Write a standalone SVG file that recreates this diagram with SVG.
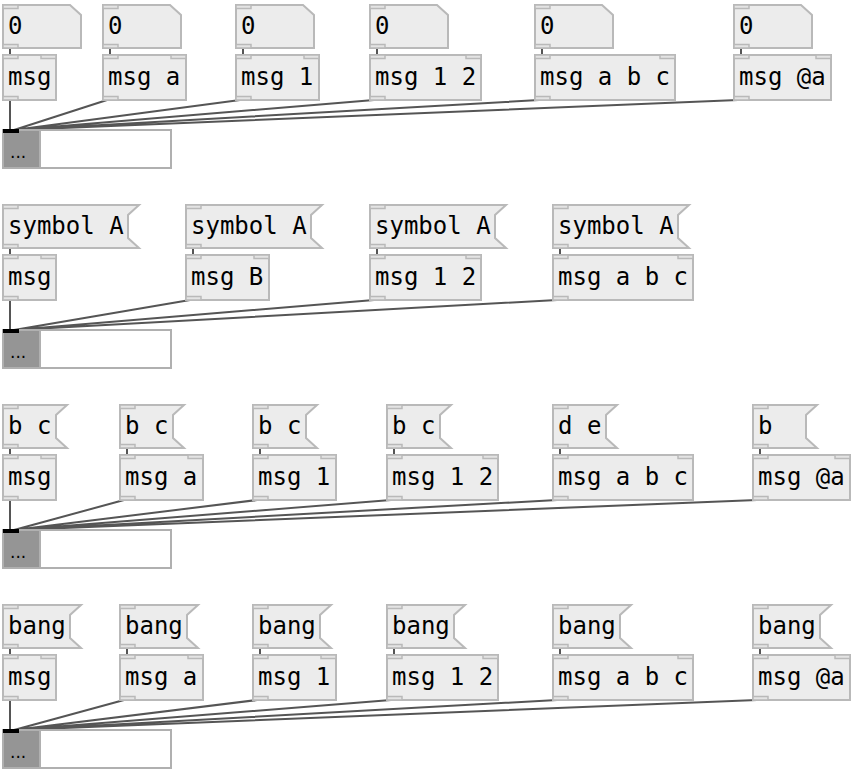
<svg xmlns="http://www.w3.org/2000/svg" width="856" height="776" viewBox="0 0 856 776">
<style>
.bg{fill:#fff}
.box{fill:#ececec;stroke:#b9b9b9;stroke-width:2}
.io{fill:#e4e4e4;stroke:#b9b9b9;stroke-width:1.5}
.t{font-family:"DejaVu Sans Mono","Liberation Mono",monospace;font-size:24px;fill:#000}
.c{stroke:#555;stroke-width:2;fill:none}
.dg{fill:#959595;stroke:#b0b0b0;stroke-width:2}
.dw{fill:#fff;stroke:#b0b0b0;stroke-width:2}
.dots{font-family:"DejaVu Sans",sans-serif;font-size:17px;fill:#000}
</style>
<rect class="bg" width="856" height="776"/>

<!-- connectors -->
<g id="connectors">
<!-- row 1 -->
<path class="c" d="M10,48V56 M110,48V56 M243,48V56 M377,48V56 M542,48V56 M741,48V56"/>
<path class="c" d="M10,100V130 M107,100L14,130 M240,100L14,130 M374,100L14,130 M539,100L14,130 M738,100L14,130"/>
<!-- row 2 -->
<path class="c" d="M10,248V256 M193,248V256 M377,248V256 M560,248V256"/>
<path class="c" d="M10,300V330 M190,300L14,330 M374,300L14,330 M557,300L14,330"/>
<!-- row 3 -->
<path class="c" d="M10,448V456 M127,448V456 M260,448V456 M394,448V456 M560,448V456 M760,448V456"/>
<path class="c" d="M10,500V530 M124,500L14,530 M257,500L14,530 M391,500L14,530 M557,500L14,530 M757,500L14,530"/>
<!-- row 4 -->
<path class="c" d="M10,648V656 M127,648V656 M260,648V656 M394,648V656 M560,648V656 M760,648V656"/>
<path class="c" d="M10,700V730 M124,700L14,730 M257,700L14,730 M391,700L14,730 M557,700L14,730 M757,700L14,730"/>
</g>

<!-- ROW 1 -->
<g id="num1"><path class="box" d="M3,5H70L81,15V48H3Z"/><rect class="io" x="3" y="5" width="15" height="3.5"/><rect class="io" x="3" y="44.5" width="15" height="3.5"/><text class="t" x="8" y="34">0</text></g>
<g id="num2"><path class="box" d="M103,5H170L181,15V48H103Z"/><rect class="io" x="103" y="5" width="15" height="3.5"/><rect class="io" x="103" y="44.5" width="15" height="3.5"/><text class="t" x="108" y="34">0</text></g>
<g id="num3"><path class="box" d="M236,5H303L314,15V48H236Z"/><rect class="io" x="236" y="5" width="15" height="3.5"/><rect class="io" x="236" y="44.5" width="15" height="3.5"/><text class="t" x="241" y="34">0</text></g>
<g id="num4"><path class="box" d="M370,5H437L448,15V48H370Z"/><rect class="io" x="370" y="5" width="15" height="3.5"/><rect class="io" x="370" y="44.5" width="15" height="3.5"/><text class="t" x="375" y="34">0</text></g>
<g id="num5"><path class="box" d="M535,5H602L613,15V48H535Z"/><rect class="io" x="535" y="5" width="15" height="3.5"/><rect class="io" x="535" y="44.5" width="15" height="3.5"/><text class="t" x="540" y="34">0</text></g>
<g id="num6"><path class="box" d="M734,5H801L812,15V48H734Z"/><rect class="io" x="734" y="5" width="15" height="3.5"/><rect class="io" x="734" y="44.5" width="15" height="3.5"/><text class="t" x="739" y="34">0</text></g>

<g id="msg1a"><rect class="box" x="3" y="55" width="53" height="45"/><rect class="io" x="3" y="55" width="15" height="3.5"/><rect class="io" x="41" y="55" width="15" height="3.5"/><rect class="io" x="3" y="96.5" width="15" height="3.5"/><text class="t" x="8" y="85">msg</text></g>
<g id="msg1b"><rect class="box" x="103" y="55" width="83" height="45"/><rect class="io" x="103" y="55" width="15" height="3.5"/><rect class="io" x="171" y="55" width="15" height="3.5"/><rect class="io" x="103" y="96.5" width="15" height="3.5"/><text class="t" x="108" y="85">msg a</text></g>
<g id="msg1c"><rect class="box" x="236" y="55" width="83" height="45"/><rect class="io" x="236" y="55" width="15" height="3.5"/><rect class="io" x="304" y="55" width="15" height="3.5"/><rect class="io" x="236" y="96.5" width="15" height="3.5"/><text class="t" x="241" y="85">msg 1</text></g>
<g id="msg1d"><rect class="box" x="370" y="55" width="111" height="45"/><rect class="io" x="370" y="55" width="15" height="3.5"/><rect class="io" x="466" y="55" width="15" height="3.5"/><rect class="io" x="370" y="96.5" width="15" height="3.5"/><text class="t" x="375" y="85">msg 1 2</text></g>
<g id="msg1e"><rect class="box" x="535" y="55" width="140" height="45"/><rect class="io" x="535" y="55" width="15" height="3.5"/><rect class="io" x="660" y="55" width="15" height="3.5"/><rect class="io" x="535" y="96.5" width="15" height="3.5"/><text class="t" x="540" y="85">msg a b c</text></g>
<g id="msg1f"><rect class="box" x="734" y="55" width="97" height="45"/><rect class="io" x="734" y="55" width="15" height="3.5"/><rect class="io" x="816" y="55" width="15" height="3.5"/><rect class="io" x="734" y="96.5" width="15" height="3.5"/><text class="t" x="739" y="85">msg @a</text></g>

<g id="disp1"><rect class="dw" x="3" y="130" width="168" height="38"/><rect class="dg" x="3" y="130" width="37" height="38"/><rect x="3" y="129" width="16" height="4" fill="#000"/><text class="dots" x="10" y="158">...</text></g>

<!-- ROW 2 -->
<g id="sym2a"><path class="box" d="M3,205H139L128,215V238L139,248H3Z"/><rect class="io" x="3" y="205" width="15" height="3.5"/><rect class="io" x="3" y="244.5" width="15" height="3.5"/><text class="t" x="8" y="234">symbol A</text></g>
<g id="sym2b"><path class="box" d="M186,205H322L311,215V238L322,248H186Z"/><rect class="io" x="186" y="205" width="15" height="3.5"/><rect class="io" x="186" y="244.5" width="15" height="3.5"/><text class="t" x="191" y="234">symbol A</text></g>
<g id="sym2c"><path class="box" d="M370,205H506L495,215V238L506,248H370Z"/><rect class="io" x="370" y="205" width="15" height="3.5"/><rect class="io" x="370" y="244.5" width="15" height="3.5"/><text class="t" x="375" y="234">symbol A</text></g>
<g id="sym2d"><path class="box" d="M553,205H689L678,215V238L689,248H553Z"/><rect class="io" x="553" y="205" width="15" height="3.5"/><rect class="io" x="553" y="244.5" width="15" height="3.5"/><text class="t" x="558" y="234">symbol A</text></g>

<g id="msg2a"><rect class="box" x="3" y="255" width="53" height="45"/><rect class="io" x="3" y="255" width="15" height="3.5"/><rect class="io" x="41" y="255" width="15" height="3.5"/><rect class="io" x="3" y="296.5" width="15" height="3.5"/><text class="t" x="8" y="285">msg</text></g>
<g id="msg2b"><rect class="box" x="186" y="255" width="83" height="45"/><rect class="io" x="186" y="255" width="15" height="3.5"/><rect class="io" x="254" y="255" width="15" height="3.5"/><rect class="io" x="186" y="296.5" width="15" height="3.5"/><text class="t" x="191" y="285">msg B</text></g>
<g id="msg2c"><rect class="box" x="370" y="255" width="111" height="45"/><rect class="io" x="370" y="255" width="15" height="3.5"/><rect class="io" x="466" y="255" width="15" height="3.5"/><rect class="io" x="370" y="296.5" width="15" height="3.5"/><text class="t" x="375" y="285">msg 1 2</text></g>
<g id="msg2d"><rect class="box" x="553" y="255" width="140" height="45"/><rect class="io" x="553" y="255" width="15" height="3.5"/><rect class="io" x="678" y="255" width="15" height="3.5"/><rect class="io" x="553" y="296.5" width="15" height="3.5"/><text class="t" x="558" y="285">msg a b c</text></g>

<g id="disp2"><rect class="dw" x="3" y="330" width="168" height="38"/><rect class="dg" x="3" y="330" width="37" height="38"/><rect x="3" y="329" width="16" height="4" fill="#000"/><text class="dots" x="10" y="358">...</text></g>

<!-- ROW 3 -->
<g id="m3a"><path class="box" d="M3,405H67L56,415V438L67,448H3Z"/><rect class="io" x="3" y="405" width="15" height="3.5"/><rect class="io" x="3" y="444.5" width="15" height="3.5"/><text class="t" x="8" y="434">b c</text></g>
<g id="m3b"><path class="box" d="M120,405H184L173,415V438L184,448H120Z"/><rect class="io" x="120" y="405" width="15" height="3.5"/><rect class="io" x="120" y="444.5" width="15" height="3.5"/><text class="t" x="125" y="434">b c</text></g>
<g id="m3c"><path class="box" d="M253,405H317L306,415V438L317,448H253Z"/><rect class="io" x="253" y="405" width="15" height="3.5"/><rect class="io" x="253" y="444.5" width="15" height="3.5"/><text class="t" x="258" y="434">b c</text></g>
<g id="m3d"><path class="box" d="M387,405H451L440,415V438L451,448H387Z"/><rect class="io" x="387" y="405" width="15" height="3.5"/><rect class="io" x="387" y="444.5" width="15" height="3.5"/><text class="t" x="392" y="434">b c</text></g>
<g id="m3e"><path class="box" d="M553,405H617L606,415V438L617,448H553Z"/><rect class="io" x="553" y="405" width="15" height="3.5"/><rect class="io" x="553" y="444.5" width="15" height="3.5"/><text class="t" x="558" y="434">d e</text></g>
<g id="m3f"><path class="box" d="M753,405H817L806,415V438L817,448H753Z"/><rect class="io" x="753" y="405" width="15" height="3.5"/><rect class="io" x="753" y="444.5" width="15" height="3.5"/><text class="t" x="758" y="434">b</text></g>

<g id="msg3a"><rect class="box" x="3" y="455" width="53" height="45"/><rect class="io" x="3" y="455" width="15" height="3.5"/><rect class="io" x="41" y="455" width="15" height="3.5"/><rect class="io" x="3" y="496.5" width="15" height="3.5"/><text class="t" x="8" y="485">msg</text></g>
<g id="msg3b"><rect class="box" x="120" y="455" width="83" height="45"/><rect class="io" x="120" y="455" width="15" height="3.5"/><rect class="io" x="188" y="455" width="15" height="3.5"/><rect class="io" x="120" y="496.5" width="15" height="3.5"/><text class="t" x="125" y="485">msg a</text></g>
<g id="msg3c"><rect class="box" x="253" y="455" width="83" height="45"/><rect class="io" x="253" y="455" width="15" height="3.5"/><rect class="io" x="321" y="455" width="15" height="3.5"/><rect class="io" x="253" y="496.5" width="15" height="3.5"/><text class="t" x="258" y="485">msg 1</text></g>
<g id="msg3d"><rect class="box" x="387" y="455" width="111" height="45"/><rect class="io" x="387" y="455" width="15" height="3.5"/><rect class="io" x="483" y="455" width="15" height="3.5"/><rect class="io" x="387" y="496.5" width="15" height="3.5"/><text class="t" x="392" y="485">msg 1 2</text></g>
<g id="msg3e"><rect class="box" x="553" y="455" width="140" height="45"/><rect class="io" x="553" y="455" width="15" height="3.5"/><rect class="io" x="678" y="455" width="15" height="3.5"/><rect class="io" x="553" y="496.5" width="15" height="3.5"/><text class="t" x="558" y="485">msg a b c</text></g>
<g id="msg3f"><rect class="box" x="753" y="455" width="97" height="45"/><rect class="io" x="753" y="455" width="15" height="3.5"/><rect class="io" x="835" y="455" width="15" height="3.5"/><rect class="io" x="753" y="496.5" width="15" height="3.5"/><text class="t" x="758" y="485">msg @a</text></g>

<g id="disp3"><rect class="dw" x="3" y="530" width="168" height="38"/><rect class="dg" x="3" y="530" width="37" height="38"/><rect x="3" y="529" width="16" height="4" fill="#000"/><text class="dots" x="10" y="558">...</text></g>

<!-- ROW 4 -->
<g id="b4a"><path class="box" d="M3,605H81L70,615V638L81,648H3Z"/><rect class="io" x="3" y="605" width="15" height="3.5"/><rect class="io" x="3" y="644.5" width="15" height="3.5"/><text class="t" x="8" y="634">bang</text></g>
<g id="b4b"><path class="box" d="M120,605H198L187,615V638L198,648H120Z"/><rect class="io" x="120" y="605" width="15" height="3.5"/><rect class="io" x="120" y="644.5" width="15" height="3.5"/><text class="t" x="125" y="634">bang</text></g>
<g id="b4c"><path class="box" d="M253,605H331L320,615V638L331,648H253Z"/><rect class="io" x="253" y="605" width="15" height="3.5"/><rect class="io" x="253" y="644.5" width="15" height="3.5"/><text class="t" x="258" y="634">bang</text></g>
<g id="b4d"><path class="box" d="M387,605H465L454,615V638L465,648H387Z"/><rect class="io" x="387" y="605" width="15" height="3.5"/><rect class="io" x="387" y="644.5" width="15" height="3.5"/><text class="t" x="392" y="634">bang</text></g>
<g id="b4e"><path class="box" d="M553,605H631L620,615V638L631,648H553Z"/><rect class="io" x="553" y="605" width="15" height="3.5"/><rect class="io" x="553" y="644.5" width="15" height="3.5"/><text class="t" x="558" y="634">bang</text></g>
<g id="b4f"><path class="box" d="M753,605H831L820,615V638L831,648H753Z"/><rect class="io" x="753" y="605" width="15" height="3.5"/><rect class="io" x="753" y="644.5" width="15" height="3.5"/><text class="t" x="758" y="634">bang</text></g>

<g id="msg4a"><rect class="box" x="3" y="655" width="53" height="45"/><rect class="io" x="3" y="655" width="15" height="3.5"/><rect class="io" x="41" y="655" width="15" height="3.5"/><rect class="io" x="3" y="696.5" width="15" height="3.5"/><text class="t" x="8" y="685">msg</text></g>
<g id="msg4b"><rect class="box" x="120" y="655" width="83" height="45"/><rect class="io" x="120" y="655" width="15" height="3.5"/><rect class="io" x="188" y="655" width="15" height="3.5"/><rect class="io" x="120" y="696.5" width="15" height="3.5"/><text class="t" x="125" y="685">msg a</text></g>
<g id="msg4c"><rect class="box" x="253" y="655" width="83" height="45"/><rect class="io" x="253" y="655" width="15" height="3.5"/><rect class="io" x="321" y="655" width="15" height="3.5"/><rect class="io" x="253" y="696.5" width="15" height="3.5"/><text class="t" x="258" y="685">msg 1</text></g>
<g id="msg4d"><rect class="box" x="387" y="655" width="111" height="45"/><rect class="io" x="387" y="655" width="15" height="3.5"/><rect class="io" x="483" y="655" width="15" height="3.5"/><rect class="io" x="387" y="696.5" width="15" height="3.5"/><text class="t" x="392" y="685">msg 1 2</text></g>
<g id="msg4e"><rect class="box" x="553" y="655" width="140" height="45"/><rect class="io" x="553" y="655" width="15" height="3.5"/><rect class="io" x="678" y="655" width="15" height="3.5"/><rect class="io" x="553" y="696.5" width="15" height="3.5"/><text class="t" x="558" y="685">msg a b c</text></g>
<g id="msg4f"><rect class="box" x="753" y="655" width="97" height="45"/><rect class="io" x="753" y="655" width="15" height="3.5"/><rect class="io" x="835" y="655" width="15" height="3.5"/><rect class="io" x="753" y="696.5" width="15" height="3.5"/><text class="t" x="758" y="685">msg @a</text></g>

<g id="disp4"><rect class="dw" x="3" y="730" width="168" height="38"/><rect class="dg" x="3" y="730" width="37" height="38"/><rect x="3" y="729" width="16" height="4" fill="#000"/><text class="dots" x="10" y="758">...</text></g>
</svg>
